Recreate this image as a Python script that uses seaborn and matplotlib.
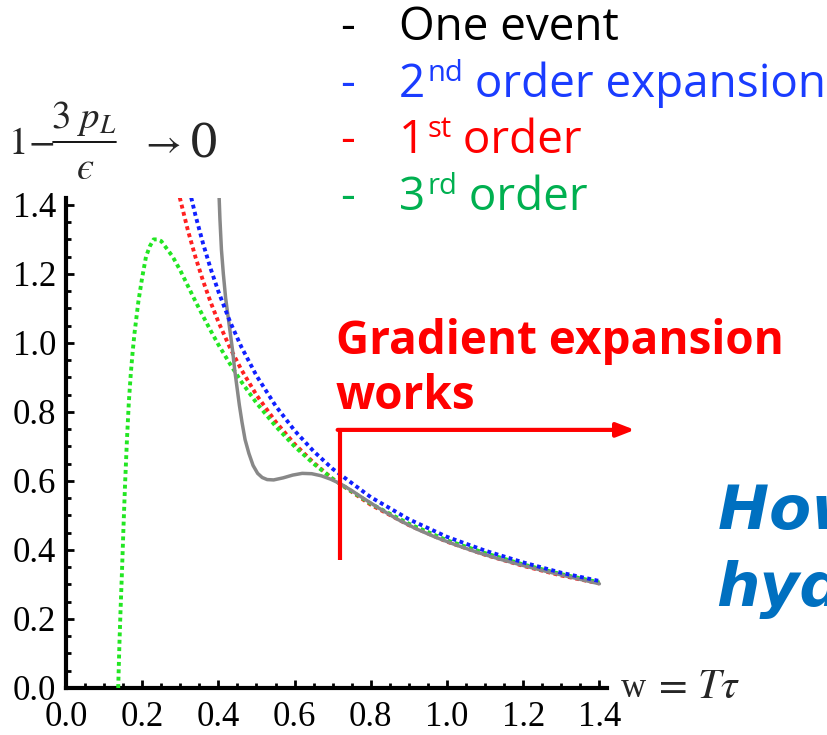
import matplotlib
matplotlib.use("Agg")
import matplotlib.pyplot as plt
import seaborn as sns
import pandas as pd
from matplotlib.ticker import MultipleLocator
from matplotlib.lines import Line2D

# ---------------- data ----------------
w_event = [0.401, 0.404, 0.408, 0.413, 0.419, 0.425, 0.431, 0.437, 0.443, 0.449,
           0.455, 0.462, 0.470, 0.480, 0.491, 0.503, 0.515, 0.528, 0.545, 0.570,
           0.595, 0.620, 0.645, 0.670, 0.695, 0.720, 0.750, 0.780, 0.820, 0.870,
           0.920, 0.970, 1.020, 1.080, 1.140, 1.200, 1.260, 1.330, 1.400]
a_event = [1.45, 1.36, 1.27, 1.20, 1.13, 1.08, 1.03, 0.98, 0.92, 0.87,
           0.82, 0.77, 0.72, 0.68, 0.645, 0.622, 0.610, 0.604, 0.603, 0.609,
           0.617, 0.622, 0.621, 0.615, 0.605, 0.592, 0.572, 0.550, 0.522, 0.489,
           0.461, 0.437, 0.416, 0.393, 0.373, 0.355, 0.338, 0.320, 0.302]

w_first = [0.29, 0.30, 0.32, 0.34, 0.36, 0.38, 0.40, 0.43, 0.46, 0.50, 0.55,
           0.60, 0.65, 0.70, 0.80, 0.90, 1.00, 1.10, 1.20, 1.30, 1.40]
a_first = [1.463, 1.415, 1.326, 1.248, 1.179, 1.117, 1.061, 0.987, 0.923, 0.849, 0.772,
           0.707, 0.653, 0.606, 0.531, 0.472, 0.424, 0.386, 0.354, 0.326, 0.303]

w_second = [0.32, 0.33, 0.34, 0.36, 0.38, 0.40, 0.43, 0.46, 0.50, 0.55,
            0.60, 0.65, 0.70, 0.80, 0.90, 1.00, 1.10, 1.20, 1.30, 1.40]
a_second = [1.463, 1.415, 1.369, 1.287, 1.214, 1.149, 1.063, 0.989, 0.905, 0.818,
            0.746, 0.686, 0.635, 0.553, 0.489, 0.438, 0.398, 0.364, 0.334, 0.310]

w_third = [0.137, 0.140, 0.143, 0.147, 0.151, 0.155, 0.160, 0.165, 0.170, 0.175,
           0.180, 0.190, 0.200, 0.210, 0.220, 0.230, 0.240, 0.250, 0.260, 0.280,
           0.300, 0.320, 0.340, 0.360, 0.380, 0.400, 0.430, 0.460, 0.500, 0.550,
           0.600, 0.650, 0.700, 0.800, 0.900, 1.000, 1.100, 1.200, 1.300, 1.400]
a_third = [0.00, 0.12, 0.22, 0.34, 0.47, 0.59, 0.72, 0.83, 0.91, 0.975,
           1.03, 1.12, 1.19, 1.25, 1.28, 1.30, 1.30, 1.295, 1.28, 1.25,
           1.21, 1.165, 1.12, 1.077, 1.035, 0.995, 0.94, 0.888, 0.826, 0.759,
           0.700, 0.650, 0.606, 0.534, 0.476, 0.428, 0.391, 0.358, 0.330, 0.306]

x_ticks = [0.0, 0.2, 0.4, 0.6, 0.8, 1.0, 1.2, 1.4]
y_ticks = [0.0, 0.2, 0.4, 0.6, 0.8, 1.0, 1.2, 1.4]

legend_items = [("One event", "", "", "#000000"),
                ("2", "nd", " order expansion", "#1a3cff"),
                ("1", "st", " order", "#ff0000"),
                ("3", "rd", " order", "#00b050")]

# ---------------- style ----------------
sns.set_theme(style="white")
plt.rcParams['font.family'] = ['Liberation Serif', 'DejaVu Serif']
plt.rcParams['mathtext.fontset'] = 'stix'

W, H = 828, 735
fig = plt.figure(figsize=(W / 100, H / 100), dpi=100)
ax = fig.add_axes([66 / W, 1 - 688 / H, 541 / W, 490 / H])

dot = (0, (1.0, 0.9))
df_first = pd.DataFrame({"w": w_first, "a": a_first})
df_third = pd.DataFrame({"w": w_third, "a": a_third})
df_event = pd.DataFrame({"w": w_event, "a": a_event})
df_second = pd.DataFrame({"w": w_second, "a": a_second})

sns.lineplot(data=df_first, x="w", y="a", color="#ff2020", linewidth=2.8,
             linestyle=dot, ax=ax, zorder=2)
sns.lineplot(data=df_third, x="w", y="a", color="#22e622", linewidth=2.8,
             linestyle=dot, ax=ax, zorder=3)
sns.lineplot(data=df_event, x="w", y="a", color="#888888", linewidth=2.5,
             ax=ax, zorder=4)
sns.lineplot(data=df_second, x="w", y="a", color="#1020ff", linewidth=2.8,
             linestyle=dot, ax=ax, zorder=5)

ax.set_xlim(0, 1.42)
ax.set_ylim(0, 1.42)
ax.set_xlabel("")
ax.set_ylabel("")
ax.set_xticks(x_ticks)
ax.set_yticks(y_ticks)
ax.set_xticklabels([f"{v:.1f}" for v in x_ticks])
ax.set_yticklabels([f"{v:.1f}" for v in y_ticks])
ax.xaxis.set_minor_locator(MultipleLocator(0.05))
ax.yaxis.set_minor_locator(MultipleLocator(0.05))
for s in ["top", "right"]:
    ax.spines[s].set_visible(False)
for s in ["left", "bottom"]:
    ax.spines[s].set_linewidth(3)
    ax.spines[s].set_color("black")
ax.tick_params(which="major", direction="in", length=6, width=2, color="black",
               labelsize=25, labelcolor="black")
ax.tick_params(axis="y", which="major", pad=7)
ax.tick_params(axis="x", which="major", pad=9)
ax.tick_params(which="minor", direction="in", length=3.5, width=2, color="black")
ax.tick_params(bottom=True, left=True, which="both")

# y-axis label (top-left), built from pieces
fig.text(8 / W, 1 - 154 / H, r"$1\!-$", fontsize=28, ha="left", va="baseline")
fig.text(84 / W, 1 - 128 / H, r"$3\ p_L$", fontsize=28, ha="center", va="baseline")
fig.add_artist(Line2D([53 / W, 116 / W], [1 - 142 / H, 1 - 142 / H], color="black",
                      linewidth=1.3, transform=fig.transFigure))
fig.text(85 / W, 1 - 179 / H, "\u03f5", fontsize=28, family="STIXGeneral",
         style="italic", ha="center", va="baseline")
fig.text(140 / W, 1 - 153 / H, r"$\rightarrow$", fontsize=28, ha="left", va="baseline")
fig.text(189 / W, 1 - 157 / H, "0", fontsize=34, family="DejaVu Serif",
         ha="left", va="baseline")

# x-axis label (right end)
fig.text(621 / W, 1 - 697 / H, "w", fontsize=25, ha="left", va="baseline")
fig.text(652 / W, 1 - 698 / H, r"$=\,T\tau$", fontsize=30, ha="left", va="baseline")

# legend-like text block
leg_font = ['Open Sans', 'DejaVu Sans']
renderer = fig.canvas.get_renderer()
base_y = [40, 97, 153, 210]
for (main, sup, rest, col), by in zip(legend_items, base_y):
    fig.text(340 / W, 1 - by / H, "-", fontsize=33, family=leg_font, color=col, va="baseline")
    t = fig.text(399 / W, 1 - by / H, main, fontsize=33, family=leg_font, color=col,
                 va="baseline")
    if sup:
        bb = t.get_window_extent(renderer=renderer)
        s = fig.text(bb.x1 / W + 2 / W, 1 - (by - 16) / H, sup, fontsize=21,
                     family=leg_font, color=col, va="baseline")
        bb2 = s.get_window_extent(renderer=renderer)
        fig.text(bb2.x1 / W, 1 - by / H, rest, fontsize=33, family=leg_font, color=col,
                 va="baseline")

# annotation: gradient expansion works
red_font = ['Open Sans', 'DejaVu Sans']
fig.text(336 / W, 1 - 354 / H, "Gradient expansion", fontsize=33, family=red_font,
         weight="bold", color="#ff0000", va="baseline")
fig.text(336 / W, 1 - 409 / H, "works", fontsize=33, family=red_font,
         weight="bold", color="#ff0000", va="baseline")
ax.plot([0.719, 0.719], [0.371, 0.748], color="#ff0000", linewidth=3, clip_on=False,
        zorder=6, solid_capstyle="butt")
ax.annotate("", xy=(1.493, 0.748), xytext=(0.713, 0.748), xycoords="data",
            annotation_clip=False,
            arrowprops=dict(arrowstyle="-|>,head_length=0.9,head_width=0.35",
                            color="#ff0000", lw=3, shrinkA=0, shrinkB=0))

# blue italic question (cut by the figure edge, as in the reference)
fig.text(718 / W, 1 - 529 / H, "How does", fontsize=44, family="DejaVu Sans",
         weight="bold", style="italic", color="#0070c0", va="baseline")
fig.text(716 / W, 1 - 606 / H, "hydrodynamics", fontsize=44, family="DejaVu Sans",
         weight="bold", style="italic", color="#0070c0", va="baseline")

fig.savefig("out.png", dpi=100)
